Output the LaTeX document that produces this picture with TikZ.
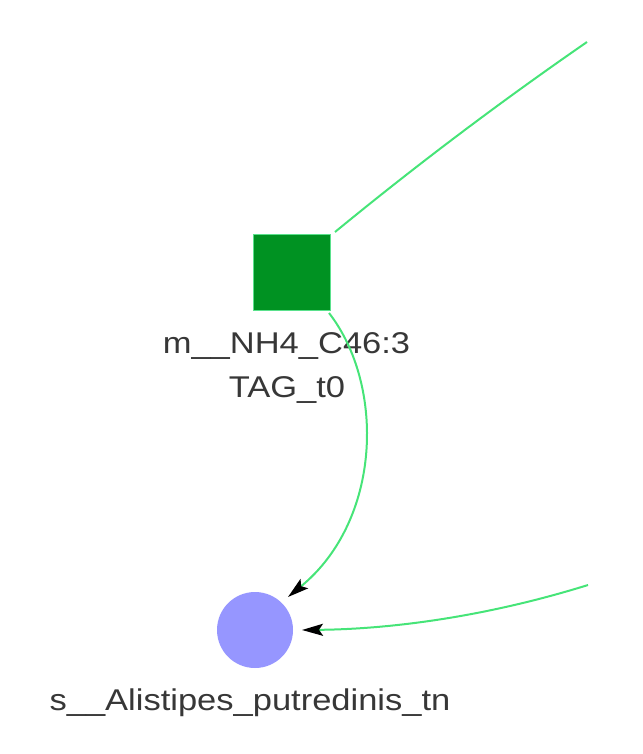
\documentclass[tikz,border=0pt]{standalone}
\usepackage{fontspec}
\newfontfamily\labfont[FakeStretch=1.15]{Liberation Sans}
\usetikzlibrary{arrows.meta}
\definecolor{edgegreen}{RGB}{70,228,120}
\definecolor{sqfill}{RGB}{0,146,34}
\definecolor{sqborder}{RGB}{90,225,140}
\definecolor{circfill}{RGB}{150,150,255}
\definecolor{labgray}{RGB}{55,55,55}
\tikzset{
  metab/.style={draw=sqborder, line width=1.5pt, fill=sqfill, minimum width=77pt, minimum height=76pt, inner sep=0pt},
  species/.style={circle, fill=circfill, minimum size=76pt, inner sep=0pt},
  lab/.style={anchor=base, text=labgray, font=\labfont\fontsize{30}{36}\selectfont, inner sep=0pt},
  link/.style={draw=edgegreen, line width=2pt},
  arr/.style={link, -{Stealth[length=21pt, width=12pt, inset=4pt, color=black]}}
}
\begin{document}
\begin{tikzpicture}[x=1pt, y=-1pt]
\useasboundingbox (0,0) rectangle (642,754);
\node[metab] (sq) at (292,272.5) {};
\node[species] (sp) at (255,630) {};
\node[lab] (l1) at (286.5,353) {m\_\_NH4\_C46:3};
\node[lab] (l2) at (287,397) {TAG\_t0};
\node[lab] (l3) at (250,710) {s\_\_Alistipes\_putredinis\_tn};
\coordinate (e1s) at (335,232);
\coordinate (e1e) at (587,42);
\coordinate (e2s) at (329,313);
\coordinate (e2e) at (288,597);
\coordinate (e3s) at (588,585);
\coordinate (e3e) at (302,630);
\draw[link] (e1s) .. controls (419,163) and (503,100) .. (e1e);
\draw[arr] (e2s) .. controls (385,385) and (382,520) .. (e2e);
\draw[arr] (e3s) .. controls (495,614) and (400,629) .. (e3e);
\end{tikzpicture}
\end{document}
